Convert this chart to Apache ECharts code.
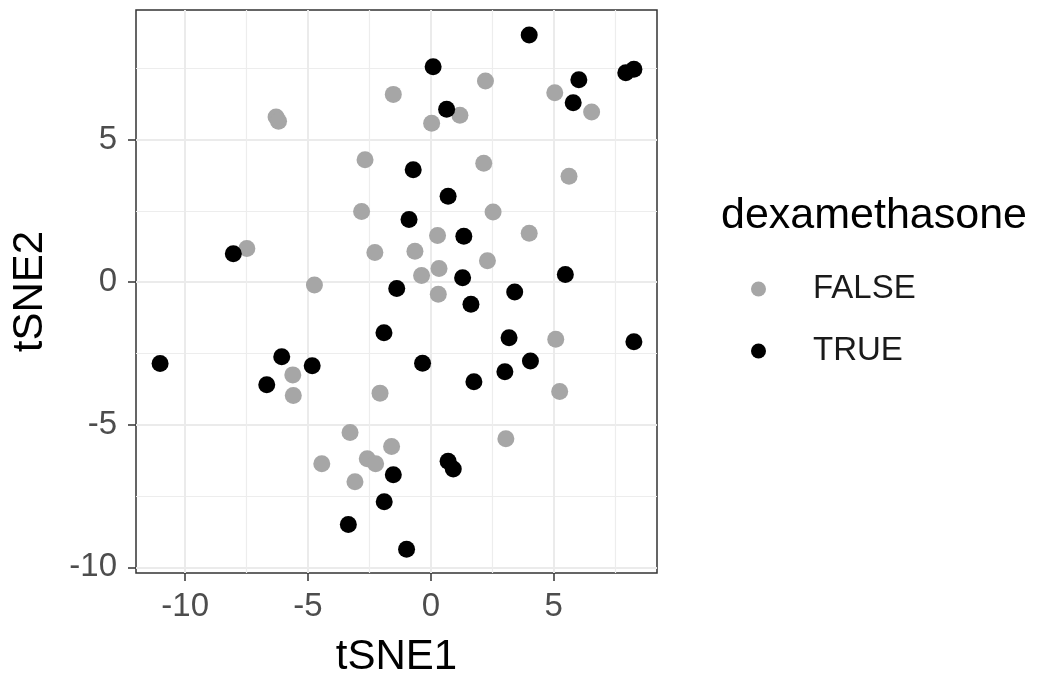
<!DOCTYPE html>
<html><head><meta charset="utf-8">
<script src="https://cdn.jsdelivr.net/npm/echarts@6/dist/echarts.min.js"></script>
<style>html,body{margin:0;padding:0;background:#fff}#c{width:1038px;height:674px}</style>
</head><body><div id="c"></div>
<script>
// dexamethasone = FALSE
const falseX = [-1.53,-6.30,-6.20,-2.68,-2.82,-7.49,-2.28,-4.74,2.22,5.04,6.54,1.18,0.03,2.15,5.62,2.53,4.00,0.27,-0.65,0.33,-0.38,2.30,0.30,-5.62,-5.60,-2.07,-3.29,-1.60,-2.59,-2.25,-4.44,-3.09,5.08,5.24,3.05];
const falseY = [6.59,5.80,5.65,4.30,2.48,1.18,1.04,-0.10,7.06,6.65,5.97,5.86,5.58,4.17,3.72,2.46,1.72,1.64,1.09,0.48,0.24,0.75,-0.42,-3.25,-3.97,-3.89,-5.27,-5.76,-6.19,-6.37,-6.37,-7.00,-2.00,-3.83,-5.49];
// dexamethasone = TRUE
const trueX = [-8.04,-1.39,4.00,0.09,7.93,8.26,6.02,5.79,0.64,-0.72,0.70,-0.89,1.34,1.29,5.47,3.41,-1.91,-11.02,-6.07,-4.83,-6.68,-1.53,-1.90,-3.36,-0.99,1.63,3.18,8.26,-0.34,4.05,3.01,1.75,0.70,0.91];
const trueY = [1.00,-0.22,8.67,7.56,7.35,7.47,7.10,6.30,6.07,3.95,3.02,2.20,1.61,0.16,0.27,-0.34,-1.77,-2.85,-2.61,-2.93,-3.60,-6.75,-7.70,-8.50,-9.37,-0.77,-1.95,-2.09,-2.84,-2.76,-3.14,-3.49,-6.28,-6.55];
const xTicks = [-10,-5,0,5];
const yTicks = [-10,-5,0,5];
const xMinor = [-7.5,-2.5,2.5,7.5];
const yMinor = [-7.5,-2.5,2.5,7.5];
const groups = ['FALSE','TRUE'];

const FONT = "'Liberation Sans', Arial, sans-serif";
const xRange = [-12.0, 9.2];
const yRange = [-10.2, 9.55];
const pair = (xs, ys) => xs.map((v,i)=>[v, ys[i]]);

const chart = echarts.init(document.getElementById('c'), null, {renderer:'canvas'});
chart.setOption({
  animation:false,
  backgroundColor:'#ffffff',
  title:{text:'dexamethasone', left:716, top:190,
    textStyle:{fontFamily:FONT, fontSize:43, fontWeight:'normal', color:'#000'}},
  legend:{orient:'vertical', left:746, top:264, itemWidth:15, itemHeight:15, itemGap:22,
    icon:'circle', data:groups,
    textStyle:{fontFamily:FONT, fontSize:33, color:'#1a1a1a', lineHeight:40, padding:[0,0,0,42]}},
  grid:{left:136, right:381, top:10, bottom:101, outerBoundsMode:'none', containLabel:false,
    show:true, borderColor:'#333333', borderWidth:1.5, backgroundColor:'#fff'},
  xAxis:[{
    type:'value', min:xRange[0], max:xRange[1],
    name:'tSNE1', nameLocation:'middle', nameGap:63,
    nameTextStyle:{fontFamily:FONT, fontSize:42, color:'#000'},
    axisLine:{show:false, onZero:false},
    axisTick:{show:true, length:8, customValues:xTicks, lineStyle:{color:'#333', width:1.5}},
    axisLabel:{customValues:xTicks, margin:17, fontFamily:FONT, fontSize:33, color:'#4d4d4d'},
    splitLine:{show:true, lineStyle:{color:'#ebebeb', width:2}}
  },{
    type:'value', min:xRange[0], max:xRange[1], position:'bottom',
    axisLine:{show:false, onZero:false}, axisTick:{show:false, customValues:xMinor},
    axisLabel:{show:false, customValues:xMinor},
    splitLine:{show:true, lineStyle:{color:'#ededed', width:1.2}}
  }],
  yAxis:[{
    type:'value', min:yRange[0], max:yRange[1],
    name:'tSNE2', nameLocation:'middle', nameGap:85, nameRotate:90,
    nameTextStyle:{fontFamily:FONT, fontSize:42, color:'#000'},
    axisLine:{show:false, onZero:false},
    axisTick:{show:true, length:8, customValues:yTicks, lineStyle:{color:'#333', width:1.5}},
    axisLabel:{customValues:yTicks, margin:19, fontFamily:FONT, fontSize:33, color:'#4d4d4d'},
    splitLine:{show:true, lineStyle:{color:'#ebebeb', width:2}}
  },{
    type:'value', min:yRange[0], max:yRange[1], position:'left',
    axisLine:{show:false, onZero:false}, axisTick:{show:false, customValues:yMinor},
    axisLabel:{show:false, customValues:yMinor},
    splitLine:{show:true, lineStyle:{color:'#ededed', width:1.2}}
  }],
  series:[
    {name:groups[0], type:'scatter', symbolSize:17, data:pair(falseX,falseY),
     itemStyle:{color:'#a6a6a6', opacity:1}, xAxisIndex:0, yAxisIndex:0},
    {name:groups[1], type:'scatter', symbolSize:17, data:pair(trueX,trueY),
     itemStyle:{color:'#000000', opacity:1}, xAxisIndex:0, yAxisIndex:0}
  ]
});
</script></body></html>
